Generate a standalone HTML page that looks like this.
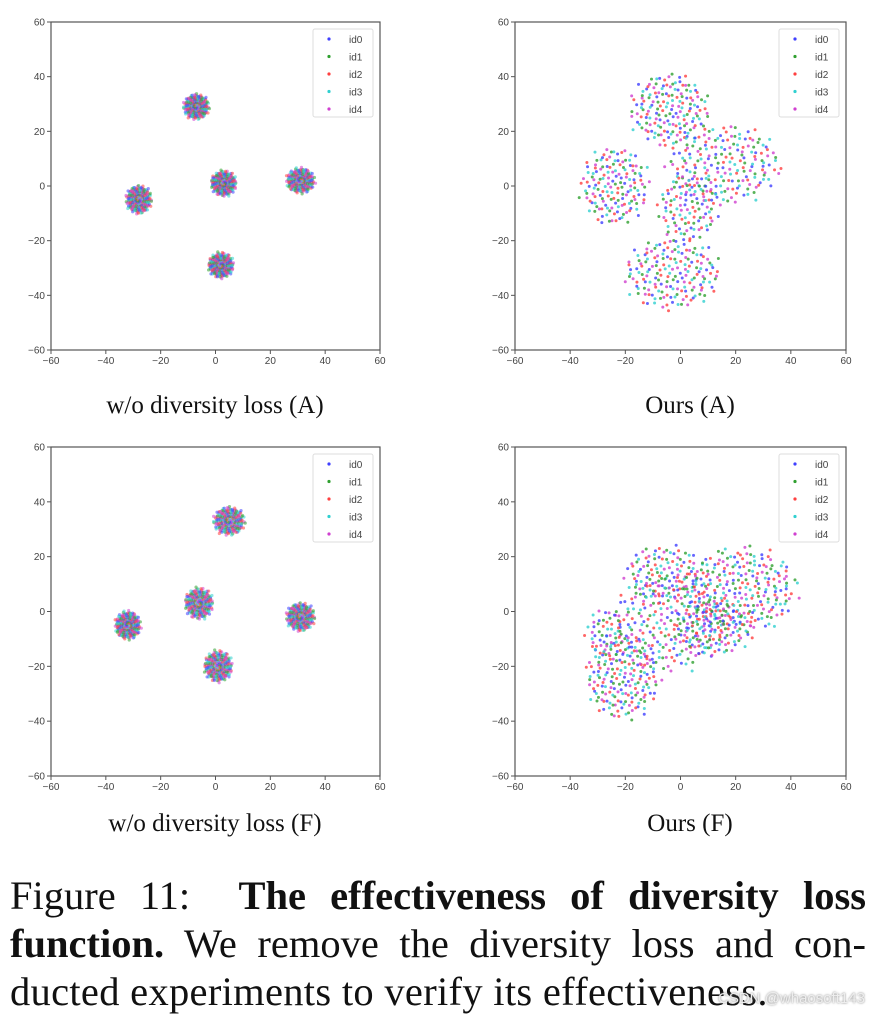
<!DOCTYPE html>
<html><head><meta charset="utf-8">
<style>
html,body{margin:0;padding:0;background:#fff;}
body{width:893px;height:1017px;position:relative;overflow:hidden;font-family:"Liberation Serif",serif;}
.cap{position:absolute;font-size:25px;color:#111;text-align:center;width:400px;}
.fl{position:absolute;left:10px;width:856px;font-size:40.5px;line-height:48px;color:#111;text-align:justify;text-align-last:justify;white-space:nowrap;}
#wm{position:absolute;left:718px;top:990px;font-family:"Liberation Sans",sans-serif;font-size:15px;color:#eee;text-shadow:0 0 2px #777;}
</style></head><body>
<svg id="chart" width="893" height="860" style="position:absolute;left:0;top:0"></svg>
<div class="cap" style="left:15px;top:392px">w/o diversity loss (A)</div>
<div class="cap" style="left:490px;top:392px">Ours (A)</div>
<div class="cap" style="left:15px;top:810px">w/o diversity loss (F)</div>
<div class="cap" style="left:490px;top:810px">Ours (F)</div>
<div>
<div class="fl" style="top:872px">Figure 11:&nbsp; <b>The effectiveness of diversity loss</b></div>
<div class="fl" style="top:920px"><b>function.</b> We remove the diversity loss and con-</div>
<div class="fl" style="top:968px;text-align-last:left;letter-spacing:0.3px">ducted experiments to verify its effectiveness.</div>
</div>
<div id="wm">CSDN @whaosoft143</div>
<script>
const tickLabels = ["−60","−40","−20","0","20","40","60"];
const tickValues = [-60,-40,-20,0,20,40,60];
const seriesNames = ["id0","id1","id2","id3","id4"];
const seriesColors = ["#4040ff","#30a030","#ff4040","#30d0d0","#d040d0"];
// clusters: [cx, cy, rx, ry, count]
const clustersWoA = [[-7,29,4.5,4.5,220],[3,1,4.5,4.5,220],[31,2,5,4.5,220],[-28,-5,4.5,5,220],[2,-29,4.5,4.5,220]];
const clustersOursA = [[-4,28,14,13,160],[-24,0,12,14,150],[16,8,20,14,190],[-3,-32,17,13,170],[3,-8,11,12,100]];
const clustersWoF = [[5,33,5.5,5,220],[-6,3,5,5.5,220],[-32,-5,4.5,5,220],[31,-2,5,5,220],[1,-20,5,5.5,220]];
const clustersOursF = [[-21,-24,13,15,180],[-4,-4,20,17,220],[22,8,20,15,240],[-6,14,14,10,110],[12,-6,14,10,120],[-27,-8,7,9,50]];

const panels = [
 {name:"wo-a", x0:51,x1:380,y0:22,y1:350, data:clustersWoA, alpha:0.55, r:1.6},
 {name:"ours-a", x0:515,x1:846,y0:22,y1:350, data:clustersOursA, alpha:0.8, r:1.5},
 {name:"wo-f", x0:51,x1:380,y0:447,y1:776, data:clustersWoF, alpha:0.55, r:1.6},
 {name:"ours-f", x0:515,x1:846,y0:447,y1:776, data:clustersOursF, alpha:0.8, r:1.5}
];
const NS="http://www.w3.org/2000/svg";
const svg=document.getElementById('chart');
function mk(t,a,p){const e=document.createElementNS(NS,t);for(const k in a)e.setAttribute(k,a[k]);(p||svg).appendChild(e);return e;}
panels.forEach(P=>{
  const g=mk('g',{});
  
  
  const sx=v=>P.x0+(v+60)/120*(P.x1-P.x0);
  const sy=v=>P.y1-(v+60)/120*(P.y1-P.y0);
  mk('rect',{x:P.x0,y:P.y0,width:P.x1-P.x0,height:P.y1-P.y0,fill:'#fff',stroke:'#555','stroke-width':1.2},g);
  tickValues.forEach((v,i)=>{
    mk('line',{x1:sx(v),x2:sx(v),y1:P.y1,y2:P.y1+4,stroke:'#555'},g);
    const tx=mk('text',{x:sx(v),y:P.y1+14,'font-size':10,'text-anchor':'middle',fill:'#444','font-family':'Liberation Sans, sans-serif'},g);
    tx.textContent=tickLabels[i];
    
    
    mk('line',{x1:P.x0-4,x2:P.x0,y1:sy(v),y2:sy(v),stroke:'#555'},g);
    const ty=mk('text',{x:P.x0-6,y:sy(v)+3.5,'font-size':10,'text-anchor':'end',fill:'#444','font-family':'Liberation Sans, sans-serif'},g);
    ty.textContent=tickLabels[i];
    
    
  });
  const ga=137.508*Math.PI/180;
  P.data.forEach((c,ci)=>{
    const n=c[4];
    for(let i=0;i<n;i++){
      const rr=Math.sqrt((i+0.5)/n)*(1+0.12*Math.sin(i*1.7));
      const th=i*ga+ci;
      const pt=mk('circle',{cx:sx(c[0]+c[2]*rr*Math.cos(th)),cy:sy(c[1]+c[3]*rr*Math.sin(th)),r:P.r,fill:seriesColors[(i*3+ci)%5],'fill-opacity':P.alpha},g);
      
      
    }
  });
  const lx=P.x1-67, ly=P.y0+7;
  const lg=mk('g',{},g);
  
  
  mk('rect',{x:lx,y:ly,width:60,height:88,fill:'#fff','fill-opacity':0.8,stroke:'#ddd',rx:2},lg);
  seriesNames.forEach((s,i)=>{
    mk('circle',{cx:lx+16,cy:ly+10+i*17.5,r:1.6,fill:seriesColors[i]},lg);
    const t=mk('text',{x:lx+36,y:ly+14+i*17.5,'font-size':10,fill:'#444','font-family':'Liberation Sans, sans-serif'},lg);
    t.textContent=s;
    
    
  });
});
</script>
</body></html>
